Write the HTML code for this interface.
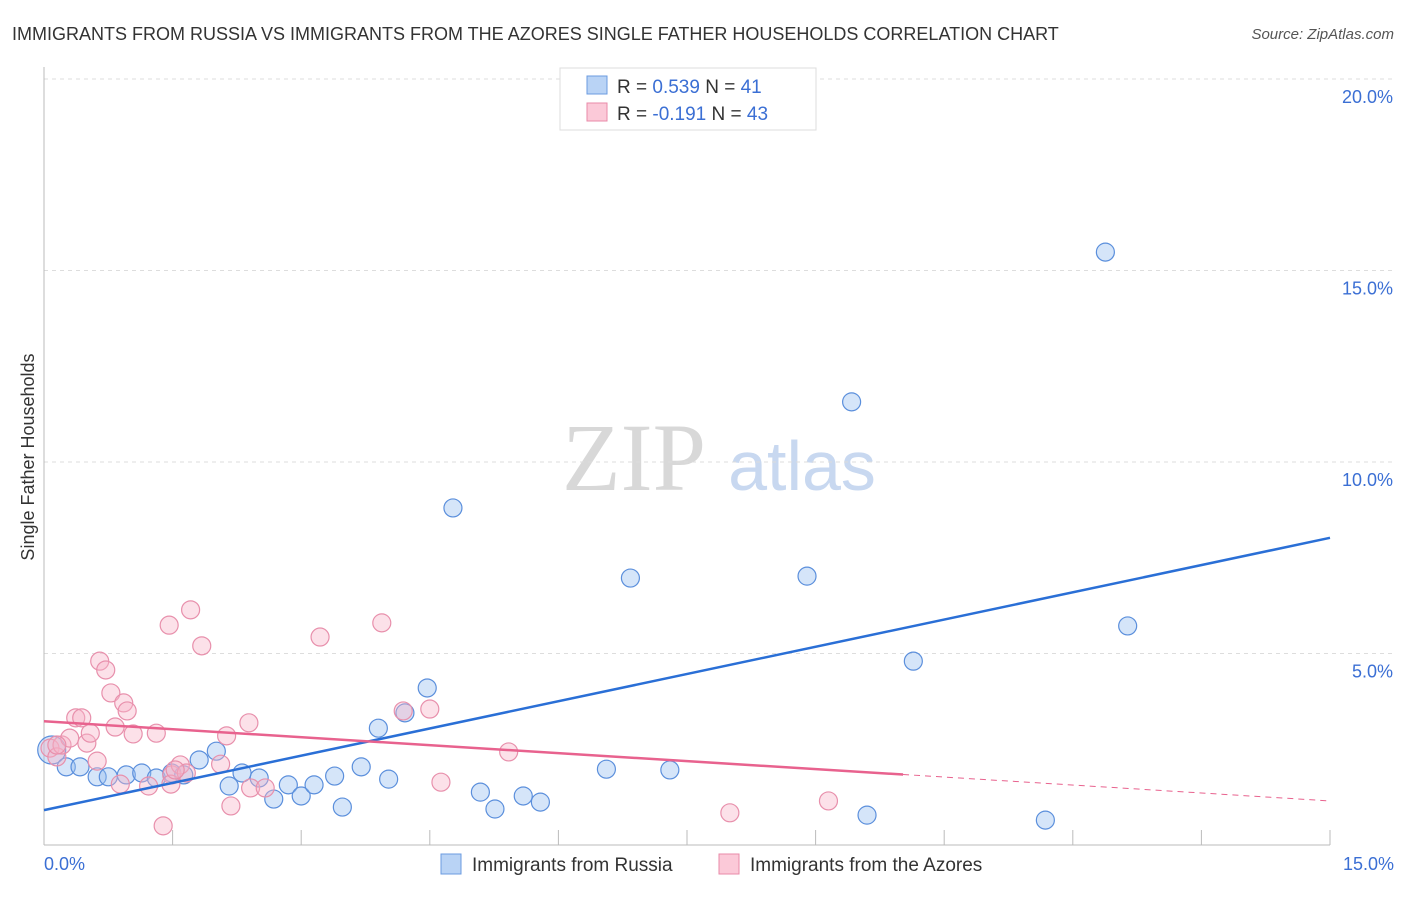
<!DOCTYPE html>
<html><head><meta charset="utf-8"><style>
body{margin:0;background:#fff;font-family:"Liberation Sans",sans-serif;}
</style></head><body>
<svg width="1406" height="892" xmlns="http://www.w3.org/2000/svg" font-family="Liberation Sans, sans-serif">
<text x="12" y="40" font-size="18" fill="#333">IMMIGRANTS FROM RUSSIA VS IMMIGRANTS FROM THE AZORES SINGLE FATHER HOUSEHOLDS CORRELATION CHART</text>
<text x="1394" y="39" font-size="15" fill="#555" text-anchor="end" font-style="italic">Source: ZipAtlas.com</text>
<g>
<text x="634" y="490" font-size="96" font-family="Liberation Serif, serif" fill="#d8d8d8" text-anchor="middle">ZIP</text>
<text x="802" y="490" font-size="70" fill="#c8d8f0" text-anchor="middle">atlas</text>
</g>
<g id="grid"></g>
<g id="axes"></g>
<g id="marks"></g>
<text transform="translate(34,457) rotate(-90)" font-size="18" fill="#333" text-anchor="middle">Single Father Households</text>
<text x="44" y="870" font-size="18" fill="#3b6fd4">0.0%</text>
<text x="1394" y="870" font-size="18" fill="#3b6fd4" text-anchor="end">15.0%</text>
<g>
<rect x="560" y="68" width="256" height="62" fill="#fff" stroke="#ddd"/>
<rect x="587" y="76" width="20" height="18" fill="#b9d3f5" stroke="#6b9be0"/>
<rect x="587" y="103" width="20" height="18" fill="#fbc9d8" stroke="#e88aa8"/>
<text x="617" y="93" font-size="19" fill="#333">R = <tspan fill="#3b6fd4">0.539</tspan>   N = <tspan fill="#3b6fd4">41</tspan></text>
<text x="617" y="120" font-size="19" fill="#333">R = <tspan fill="#3b6fd4">-0.191</tspan>   N = <tspan fill="#3b6fd4">43</tspan></text>
</g>
<g>
<rect x="441" y="854" width="20" height="20" fill="#b9d3f5" stroke="#6b9be0"/>
<text x="472" y="871" font-size="19" fill="#333">Immigrants from Russia</text>
<rect x="719" y="854" width="20" height="20" fill="#fbc9d8" stroke="#e88aa8"/>
<text x="750" y="871" font-size="19" fill="#333">Immigrants from the Azores</text>
</g>
</svg>
<script>
const yTicks=[5,10,15,20];
const yTickLabels=["5.0%","10.0%","15.0%","20.0%"];
const xTicks=[0,1.5,3,4.5,6,7.5,9,10.5,12,13.5,15];
const russiaX=[0.09,0.26,0.42,0.62,0.75,0.96,1.14,1.31,1.49,1.63,1.81,2.01,2.16,2.31,2.51,2.68,2.85,3.00,3.15,3.39,3.48,3.70,3.90,4.02,4.21,4.47,4.77,5.09,5.26,5.59,5.79,6.56,6.84,7.30,8.90,9.42,9.60,10.14,11.68,12.38,12.64];
const russiaY=[2.48,2.04,2.04,1.78,1.78,1.83,1.88,1.75,1.88,1.83,2.22,2.45,1.54,1.88,1.75,1.20,1.57,1.28,1.57,1.80,0.99,2.04,3.05,1.72,3.45,4.10,8.80,1.38,0.94,1.28,1.12,1.98,6.97,1.96,7.02,11.57,0.78,4.80,0.65,15.48,5.72];
const azoresX=[0.07,0.15,0.21,0.30,0.37,0.44,0.50,0.54,0.62,0.65,0.72,0.78,0.93,0.97,0.83,1.04,0.89,1.22,1.31,1.39,1.46,1.49,1.59,1.48,1.71,1.84,2.06,2.13,2.18,2.39,2.41,2.58,3.22,3.94,4.19,4.50,4.63,5.42,8.00,9.15,0.15,1.66,1.53];
const azoresY=[2.53,2.30,2.61,2.79,3.32,3.32,2.66,2.92,2.19,4.80,4.57,3.97,3.71,3.50,3.08,2.90,1.59,1.54,2.92,0.50,5.74,1.83,2.09,1.59,6.14,5.20,2.11,2.85,1.02,3.19,1.49,1.49,5.43,5.80,3.50,3.55,1.64,2.43,0.84,1.15,2.61,1.88,1.96];
const russiaTrend=[0.91,8.02];
const azoresTrend=[3.23,1.15];
const azoresSolidEnd=10.02;
const NS="http://www.w3.org/2000/svg";
const X0=44,X1=1330,Y0=845,Y20=79;
const sx=v=>X0+(X1-X0)*v/15;
const sy=v=>Y0-(Y0-Y20)*v/20;
function mk(tag,attrs,parent){const e=document.createElementNS(NS,tag);for(const k in attrs)e.setAttribute(k,attrs[k]);parent.appendChild(e);return e;}
const grid=document.getElementById('grid'),axes=document.getElementById('axes'),marks=document.getElementById('marks');
yTicks.forEach((t,i)=>{
  const l=mk('line',{x1:X0,x2:1394,y1:sy(t),y2:sy(t),stroke:'#ddd','stroke-dasharray':'4,4'},grid);
  
  
  const tx=mk('text',{x:1393,y:sy(t)+24,'font-size':18,fill:'#3b6fd4','text-anchor':'end'},grid);
  tx.textContent=yTickLabels[i];
  
  
});
const ya=mk('line',{x1:X0,x2:X0,y1:67,y2:Y0,stroke:'#bbb'},axes);


const xa=mk('line',{x1:X0,x2:X1,y1:Y0,y2:Y0,stroke:'#bbb'},axes);


xTicks.forEach(t=>{
  const l=mk('line',{x1:sx(t),x2:sx(t),y1:Y0-15,y2:Y0,stroke:'#bbb'},axes);
  
  
});
russiaX.forEach((x,i)=>{
  const c=mk('circle',{cx:sx(x),cy:sy(russiaY[i]),r:i===0?14:9,fill:'rgba(150,190,240,0.4)',stroke:'#5b8fdc','stroke-width':1.2},marks);
  
  
});
azoresX.forEach((x,i)=>{
  const c=mk('circle',{cx:sx(x),cy:sy(azoresY[i]),r:9,fill:'rgba(248,180,200,0.4)',stroke:'#e890ac','stroke-width':1.2},marks);
  
  
});
const rt=mk('line',{x1:sx(0),y1:sy(russiaTrend[0]),x2:sx(15),y2:sy(russiaTrend[1]),stroke:'#2a6fd6','stroke-width':2.5},marks);


const ay=v=>azoresTrend[0]+(azoresTrend[1]-azoresTrend[0])*v/15;
const at=mk('line',{x1:sx(0),y1:sy(ay(0)),x2:sx(azoresSolidEnd),y2:sy(ay(azoresSolidEnd)),stroke:'#e8628e','stroke-width':2.5},marks);


const ad=mk('line',{x1:sx(azoresSolidEnd),y1:sy(ay(azoresSolidEnd)),x2:sx(15),y2:sy(ay(15)),stroke:'#e8628e','stroke-width':1,'stroke-dasharray':'6,5'},marks);


</script>
</body></html>
